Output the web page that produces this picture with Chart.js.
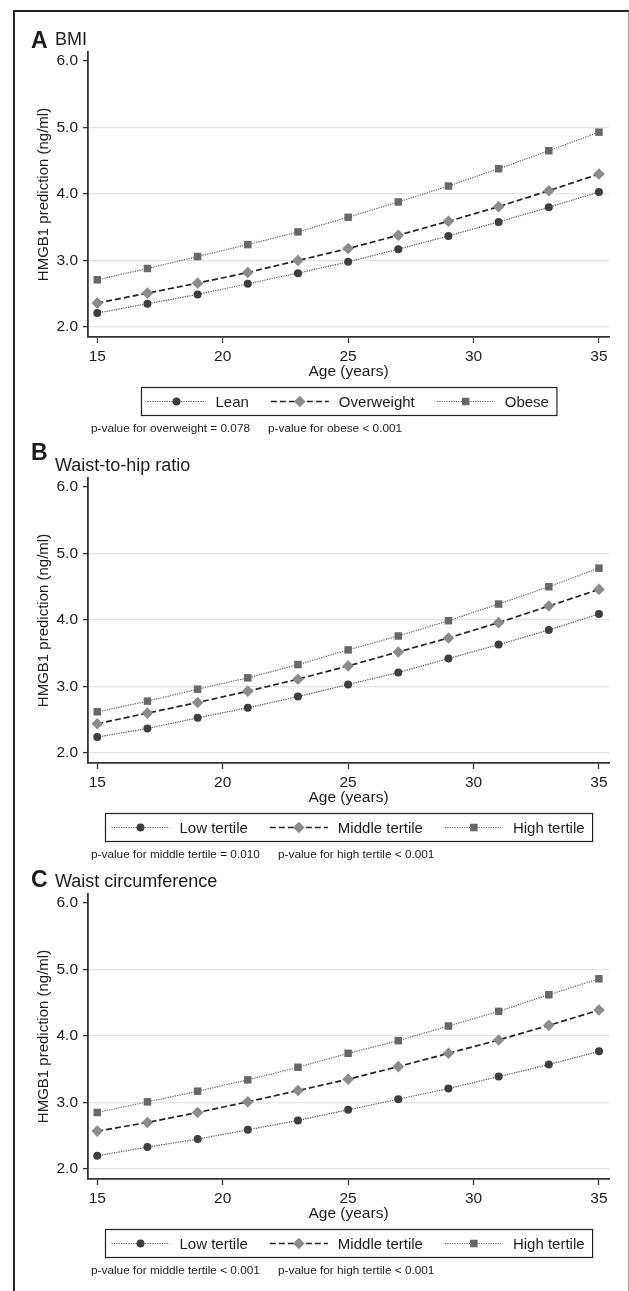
<!DOCTYPE html>
<html>
<head>
<meta charset="utf-8">
<script src="https://cdn.jsdelivr.net/npm/chart.js@4.4.1/dist/chart.umd.min.js"></script>
<style>
  html, body { margin: 0; padding: 0; background: #fff; }
  body { width: 629px; height: 1291px; position: relative; overflow: hidden; }
  #frame {
    position: absolute; left: 13px; top: 10px; width: 616px; height: 1300px;
    border-top: 2px solid #222; border-left: 2px solid #222; border-right: 1px solid #9a9a9a;
    box-sizing: border-box;
  }
  .panel { position: absolute; left: 15px; width: 613px; height: 430px; }
</style>
</head>
<body>
<div id="frame"></div>
<div class="panel" style="top:12px"><canvas id="panelA" width="613" height="430"></canvas></div>
<div class="panel" style="top:438px"><canvas id="panelB" width="613" height="430"></canvas></div>
<div class="panel" style="top:854px"><canvas id="panelC" width="613" height="430"></canvas></div>

<script>
/* ─── Data ─── */
const ages   = [15, 17, 19, 21, 23, 25, 27, 29, 31, 33, 35];
const xTicks = [15, 20, 25, 30, 35];
const yTicks = [2, 3, 4, 5, 6];

// A — BMI
const bmiLabels     = ['Lean', 'Overweight', 'Obese'];
const bmiLean       = [2.21, 2.35, 2.49, 2.65, 2.81, 2.98, 3.17, 3.37, 3.58, 3.80, 4.03];
const bmiOverweight = [2.36, 2.51, 2.66, 2.82, 3.00, 3.18, 3.38, 3.59, 3.81, 4.05, 4.30];
const bmiObese      = [2.71, 2.88, 3.06, 3.24, 3.43, 3.65, 3.88, 4.12, 4.38, 4.65, 4.93];

// B — Waist-to-hip ratio
const tertileLabels = ['Low tertile', 'Middle tertile', 'High tertile'];
const whrLow        = [2.24, 2.37, 2.53, 2.68, 2.85, 3.03, 3.21, 3.42, 3.63, 3.85, 4.09];
const whrMiddle     = [2.44, 2.60, 2.76, 2.93, 3.11, 3.31, 3.52, 3.73, 3.96, 4.21, 4.46];
const whrHigh       = [2.62, 2.78, 2.96, 3.13, 3.33, 3.55, 3.76, 3.99, 4.24, 4.50, 4.78];

// C — Waist circumference
const wcLow         = [2.20, 2.33, 2.45, 2.59, 2.73, 2.89, 3.05, 3.21, 3.39, 3.57, 3.77];
const wcMiddle      = [2.57, 2.70, 2.85, 3.01, 3.18, 3.35, 3.54, 3.74, 3.94, 4.16, 4.39];
const wcHigh        = [2.85, 3.01, 3.17, 3.34, 3.53, 3.74, 3.93, 4.15, 4.37, 4.62, 4.86];

const pvalsA = ['p-value for overweight = 0.078', 'p-value for obese < 0.001'];
const pvalsB = ['p-value for middle tertile = 0.010', 'p-value for high tertile < 0.001'];
const pvalsC = ['p-value for middle tertile < 0.001', 'p-value for high tertile < 0.001'];

/* ─── Styles ─── */
const FONT = '"Liberation Sans", Arial, Helvetica, sans-serif';
const INK  = '#1c1c1c';
const AXIS = '#333333';

const SERIES_STYLE = [
  { pointStyle: 'circle',  radius: 4.0, fill: '#3e3e3e', line: '#4a4a4a', dash: [1.2, 1.2], width: 1.2 },
  { pointStyle: 'rectRot', radius: 5.8, fill: '#8c8c8c', line: '#222222', dash: [6, 3],     width: 1.7 },
  { pointStyle: 'rect',    radius: 5.3, fill: '#686868', line: '#5e5e5e', dash: [1.2, 1.2], width: 1.2 }
];

/* ─── Helpers ─── */
function drawMarker(ctx, style, r, color, x, y) {
  ctx.save();
  ctx.fillStyle = color;
  ctx.beginPath();
  if (style === 'circle') {
    ctx.arc(x, y, r, 0, Math.PI * 2);
  } else if (style === 'rectRot') {
    ctx.moveTo(x, y - r); ctx.lineTo(x + r, y); ctx.lineTo(x, y + r); ctx.lineTo(x - r, y);
    ctx.closePath();
  } else {
    const h = r * Math.SQRT1_2;
    ctx.rect(x - h, y - h, 2 * h, 2 * h);
  }
  ctx.fill();
  ctx.restore();
}

/* letter, title, boxed legend and p-value notes under each panel */
const panelDeco = {
  id: 'panelDeco',
  afterDraw(chart, args, opts) {
    const ctx  = chart.ctx;
    const area = chart.chartArea;
    ctx.save();
    ctx.fillStyle = INK;
    ctx.textAlign = 'left';
    ctx.textBaseline = 'alphabetic';
    ctx.font = `bold 23px ${FONT}`;
    ctx.fillText(opts.letter, 16, opts.letterY);
    ctx.font = `18px ${FONT}`;
    ctx.fillText(opts.title, 40, opts.titleY);

    // legend box
    ctx.font = `15px ${FONT}`;
    const SAMPLE = 58, GAP = 10, SEP = 22, PADL = 6, PADR = 8;
    const items = chart.data.datasets.map((ds, i) => ({ ds, st: SERIES_STYLE[i], w: ctx.measureText(ds.label).width }));
    const total = PADL + PADR + items.reduce((s, it) => s + SAMPLE + GAP + it.w, 0) + SEP * (items.length - 1);
    const x0 = Math.round((area.left + area.right) / 2 - total / 2) + 0.5;
    const top = 375.5, h = 28, cy = top + h / 2;
    ctx.strokeStyle = '#222';
    ctx.lineWidth = 1.2;
    ctx.strokeRect(x0, top, total, h);

    let x = x0 + PADL;
    items.forEach(it => {
      ctx.save();
      ctx.strokeStyle = it.st.line;
      ctx.lineWidth = it.st.width;
      ctx.setLineDash(it.st.dash);
      ctx.beginPath();
      ctx.moveTo(x, cy); ctx.lineTo(x + SAMPLE, cy);
      ctx.stroke();
      ctx.restore();
      drawMarker(ctx, it.st.pointStyle, it.st.radius, it.st.fill, x + SAMPLE / 2, cy);
      x += SAMPLE + GAP;
      ctx.fillStyle = INK;
      ctx.textBaseline = 'middle';
      ctx.fillText(it.ds.label, x, cy + 1);
      x += it.w + SEP;
    });

    // p-value notes
    ctx.font = `11.8px ${FONT}`;
    ctx.textBaseline = 'middle';
    opts.pvals.forEach((t, i) => ctx.fillText(t, opts.pvalX[i], 417));
    ctx.restore();
  }
};

function makePanel(canvasId, deco, labels, seriesList) {
  const datasets = seriesList.map((vals, i) => {
    const st = SERIES_STYLE[i];
    return {
      label: labels[i],
      data: ages.map((a, k) => ({ x: a, y: vals[k] })),
      borderColor: st.line,
      borderWidth: st.width,
      borderDash: st.dash,
      pointStyle: st.pointStyle,
      pointRadius: st.radius,
      pointBackgroundColor: st.fill,
      pointBorderColor: st.fill,
      pointBorderWidth: 0,
      tension: 0,
      fill: false
    };
  });

  return new Chart(document.getElementById(canvasId), {
    type: 'line',
    data: { datasets },
    plugins: [panelDeco],
    options: {
      responsive: false,
      animation: false,
      events: [],
      layout: { padding: { left: 0, right: 19, top: 40, bottom: 61 } },
      plugins: {
        legend: { display: false },
        tooltip: { enabled: false },
        panelDeco: deco
      },
      scales: {
        x: {
          type: 'linear',
          min: 14.63,
          max: 35.4,
          afterBuildTicks: s => { s.ticks = xTicks.map(v => ({ value: v })); },
          afterFit: s => { s.height = 44; },
          grid: { drawOnChartArea: false, drawTicks: true, tickLength: 6, tickColor: AXIS, tickWidth: 1.3 },
          border: { color: AXIS, width: 1.8 },
          ticks: { color: INK, font: { size: 15.5, family: FONT }, padding: 4, maxRotation: 0, autoSkip: false },
          title: { display: true, text: 'Age (years)', color: INK, font: { size: 15.5, family: FONT }, padding: 0 }
        },
        y: {
          type: 'linear',
          min: 1.85,
          max: 6.135,
          afterBuildTicks: s => { s.ticks = yTicks.map(v => ({ value: v })); },
          afterFit: s => { s.width = 73; },
          grid: {
            color: c => (c.tick && c.tick.value === 6) ? 'rgba(0,0,0,0)' : '#e4e4e4',
            lineWidth: 1.2,
            tickColor: AXIS,
            tickLength: 5,
            tickWidth: 1.3
          },
          border: { color: AXIS, width: 1.8 },
          ticks: {
            color: INK,
            font: { size: 15.5, family: FONT },
            padding: 5,
            callback: v => Number(v).toFixed(1)
          },
          title: {
            display: true, text: 'HMGB1 prediction (ng/ml)', color: INK,
            font: { size: 15, family: FONT }, padding: { top: 19.5, bottom: 0 }
          }
        }
      }
    }
  });
}

makePanel('panelA',
  { letter: 'A', title: 'BMI', letterY: 36, titleY: 33, pvals: pvalsA, pvalX: [76, 253] },
  bmiLabels, [bmiLean, bmiOverweight, bmiObese]);

makePanel('panelB',
  { letter: 'B', title: 'Waist-to-hip ratio', letterY: 22, titleY: 32.5, pvals: pvalsB, pvalX: [76, 263] },
  tertileLabels, [whrLow, whrMiddle, whrHigh]);

makePanel('panelC',
  { letter: 'C', title: 'Waist circumference', letterY: 33, titleY: 33, pvals: pvalsC, pvalX: [76, 263] },
  tertileLabels, [wcLow, wcMiddle, wcHigh]);
</script>
</body>
</html>
